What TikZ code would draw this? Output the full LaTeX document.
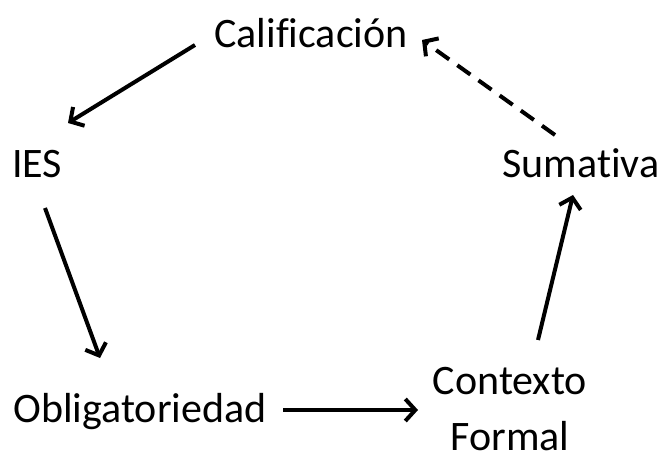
\documentclass[tikz,border=0pt]{standalone}
\usepackage{fontspec}
\setmainfont[Ligatures={NoCommon,NoContextual}]{Carlito}
\usetikzlibrary{arrows.meta}
\begin{document}
\begin{tikzpicture}[x=1pt,y=-1pt,
  lbl/.style={inner sep=0pt,anchor=base,font=\fontsize{42}{50}\selectfont},
  conn/.style={line width=4pt,-{Straight Barb[length=10pt,width=22pt,line width=4pt]}},
  dconn/.style={conn,dash pattern=on 16pt off 10pt}]
\useasboundingbox (0,0) rectangle (664,457);
\node[lbl] (cal) at (311,48) {Calificación};
\node[lbl] (ies) at (37,178) {IES};
\node[lbl] (sum) at (581,178) {Sumativa};
\node[lbl] (obl) at (140,422) {Obligatoriedad};
\node[lbl] (con) at (510,394) {Contexto};
\node[lbl] (for) at (510,450) {Formal};
\coordinate (a1s) at (195,45);  \coordinate (a1e) at (68,123);
\coordinate (a2s) at (45,208);  \coordinate (a2e) at (100,358);
\coordinate (a3s) at (283,410); \coordinate (a3e) at (418,410);
\coordinate (a4s) at (538,340); \coordinate (a4e) at (573,195);
\coordinate (a5s) at (555,135); \coordinate (a5e) at (422,40);
\draw[conn] (a1s) -- (a1e);
\draw[conn] (a2s) -- (a2e);
\draw[conn] (a3s) -- (a3e);
\draw[conn] (a4s) -- (a4e);
\draw[dconn] (a5s) -- (a5e);
\end{tikzpicture}
\end{document}
